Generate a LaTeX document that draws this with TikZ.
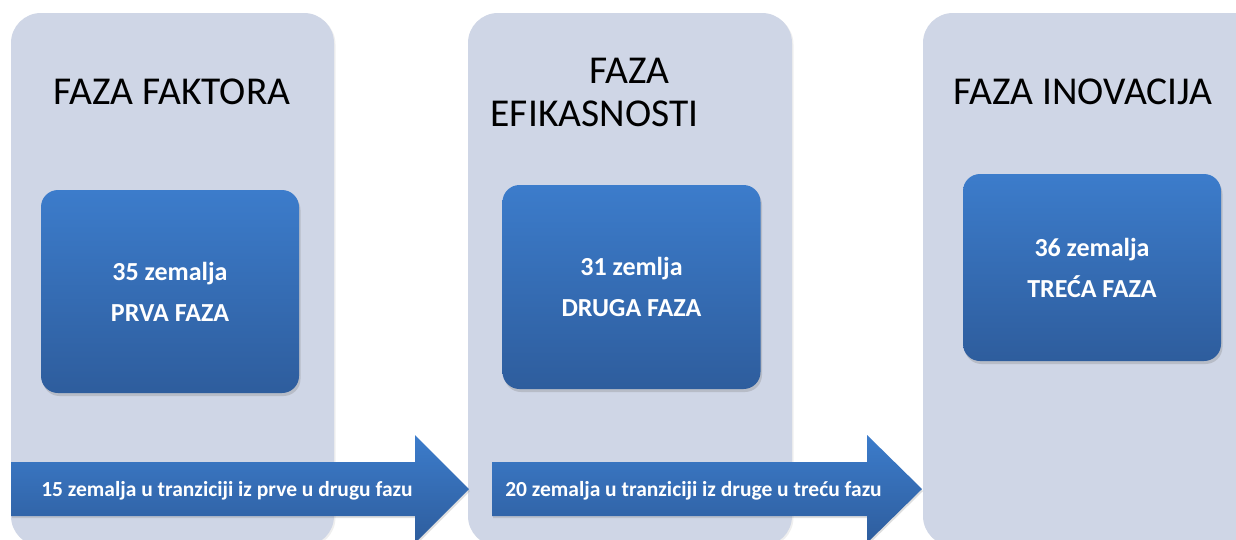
\documentclass[tikz,border=0pt]{standalone}
\usepackage{fontspec}
\setmainfont{Carlito}
\usetikzlibrary{shadows}
\definecolor{panelgray}{HTML}{CFD6E6}
\definecolor{bluetop}{HTML}{3C7CCB}
\definecolor{bluebot}{HTML}{2E5D9D}
\tikzset{
  panel/.style={fill=panelgray, rounded corners=30pt, drop shadow={opacity=0.12, shadow xshift=1.5pt, shadow yshift=-1.5pt}},
  phasebox/.style={rounded corners=17pt, top color=bluetop, bottom color=bluebot, text=white, align=center,
    minimum width=258pt, font=\fontsize{26}{41}\selectfont\bfseries,
    drop shadow={opacity=0.3, shadow xshift=1.5pt, shadow yshift=-3pt}},
  title/.style={anchor=base, font=\fontsize{39.5}{42}\selectfont},
  transarrow/.style={top color=bluetop, bottom color=bluebot, drop shadow={opacity=0.25, shadow xshift=1pt, shadow yshift=-2pt}},
  translabel/.style={anchor=base, text=white, font=\fontsize{21.5}{24}\selectfont\bfseries}
}
\begin{document}
\begin{tikzpicture}[x=1pt,y=-1pt]
				\useasboundingbox (0,0) rectangle (1236,539);
				\clip (0,0) rectangle (1236,539);
				\fill[white] (0,0) rectangle (1236,539);
				% panels
				\path[panel] (11,13) rectangle (334,546);
				\path[panel] (468,13) rectangle (792,546);
				\path[panel] (923,13) rectangle (1265,546);
				\node[title] (t1) at (172,104) {FAZA FAKTORA};
				\node[title] (t2a) at (629.5,83) {FAZA};
				\node[title] (t2b) at (594.5,126) {EFIKASNOSTI};
				\node[title] (t3) at (1083,104) {FAZA INOVACIJA};
				% phase boxes
				\node[phasebox, minimum height=203pt] (b1) at (170,291.5) {35 zemalja\\PRVA FAZA};
				\node[phasebox, minimum height=204pt] (b2) at (631.5,287) {31 zemlja\\DRUGA FAZA};
				\node[phasebox, minimum height=187pt] (b3) at (1092,267.5) {36 zemalja\\TREĆA FAZA};
				% transition arrows
				\path[transarrow] (11,462) -- (415,462) -- (415,435) -- (469,489) -- (415,543) -- (415,516) -- (11,516) -- cycle;
				\path[transarrow] (492,462) -- (867,462) -- (867,435) -- (922,489) -- (867,543) -- (867,516) -- (492,516) -- cycle;
				\node[translabel] (l1) at (227,496) {15 zemalja u tranziciji iz prve u drugu fazu};
				\node[translabel] (l2) at (693.5,496) {20 zemalja u tranziciji iz druge u treću fazu};
\end{tikzpicture}
\end{document}
